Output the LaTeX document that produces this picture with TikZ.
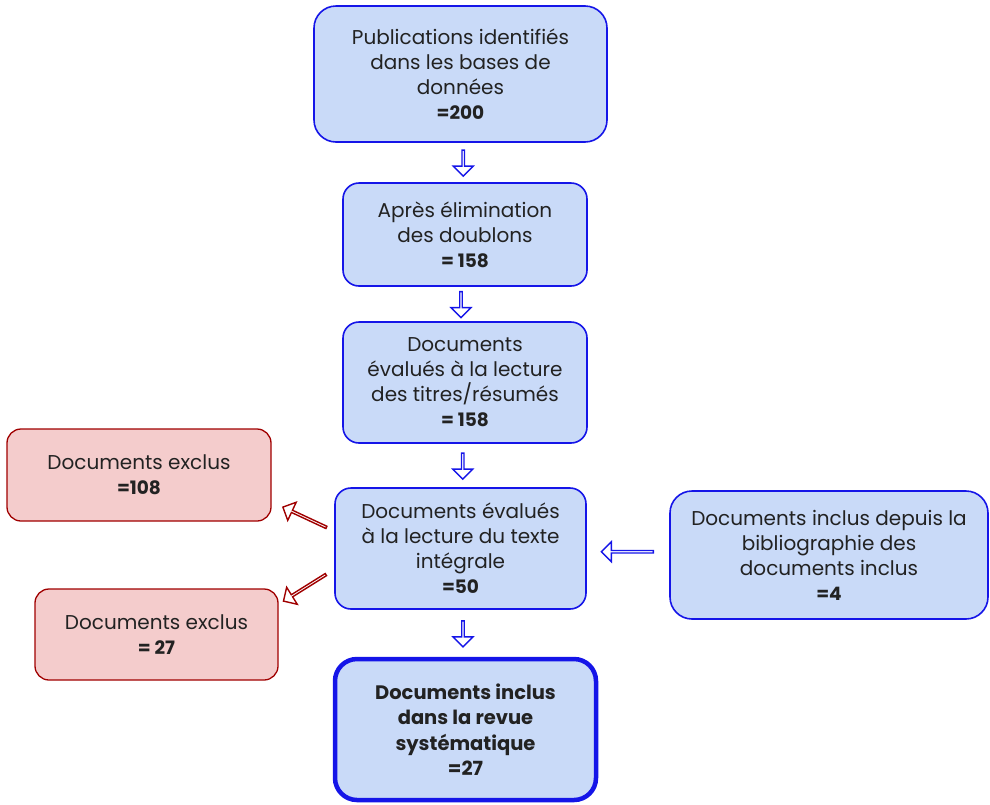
\documentclass[tikz,border=0pt]{standalone}
\usepackage{fontspec}
\setmainfont{Poppins}
\usetikzlibrary{shapes.arrows,calc}
\definecolor{bluefill}{HTML}{C9DAF8}
\definecolor{blueline}{HTML}{1515E8}
\definecolor{redfill}{HTML}{F4CCCC}
\definecolor{redline}{HTML}{A00000}
\definecolor{ink}{HTML}{222222}
\newcommand\num[1]{{\fontsize{18.5}{25}\selectfont\bfseries #1}}
\tikzset{
  box/.style={draw=blueline, fill=bluefill, line width=1.6pt, rounded corners=22pt,
    align=center, text=ink, inner sep=0pt,
    font=\fontsize{20}{25}\selectfont},
  exbox/.style={box, draw=redline, fill=redfill, rounded corners=14pt, line width=1.3pt},
  finalbox/.style={box, line width=4.5pt, font=\fontsize{19.5}{25.5}\selectfont\bfseries},
  blockarrow/.style={single arrow, draw=#1, fill=white, line width=1.4pt,
    minimum height=26pt, minimum width=20pt, single arrow head extend=5pt, inner sep=0pt},
}
\begin{document}
\begin{tikzpicture}[x=1pt,y=-1pt]
\useasboundingbox (0,0) rectangle (990,804);
% boxes of the main flow
\node[box, minimum width=293pt, minimum height=136pt] (ident) at (460.5,74)
  {Publications identifiés\\dans les bases de\\données\\\num{=200}};
\node[box, minimum width=244pt, minimum height=103pt, rounded corners=16pt] (dedup) at (465,234.5)
  {Après élimination\\des doublons\\\num{= 158}};
\node[box, minimum width=244pt, minimum height=121pt, rounded corners=16pt] (titres) at (465,382.5)
  {Documents\\évalués à la lecture\\des titres/résumés\\\num{= 158}};
\node[box, minimum width=251pt, minimum height=121pt, rounded corners=16pt] (texte) at (460.5,548.5)
  {Documents évalués\\à la lecture du texte\\intégrale\\\num{=50}};
\node[finalbox, minimum width=261pt, minimum height=141pt] (final) at (465.5,729.5)
  {Documents inclus\\dans la revue\\systématique\\=27};
% side boxes
\node[box, minimum width=318pt, minimum height=128pt, rounded corners=22pt] (biblio) at (829,555)
  {Documents inclus depuis la\\bibliographie des\\documents inclus\\\num{=4}};
\node[exbox, minimum width=264pt, minimum height=92pt] (excl1) at (139,475)
  {Documents exclus\\\num{=108}};
\node[exbox, minimum width=243pt, minimum height=91pt] (excl2) at (156.5,634.5)
  {Documents exclus\\\num{= 27}};
% block arrows between the boxes
\node[blockarrow=blueline, rotate=-90] (a1) at ($(ident.south)!0.5!(dedup.north)+(0.5,0)$) {};
\node[blockarrow=blueline, rotate=-90] (a2) at ($(dedup.south)!0.5!(titres.north)-(4,0)$) {};
\node[blockarrow=blueline, rotate=-90] (a3) at ($(titres.south)!0.5!(texte.north)$) {};
\node[blockarrow=blueline, rotate=-90] (a4) at ($(texte.south)!0.5!(final.north)$) {};
\node[blockarrow=blueline, rotate=180, minimum height=52pt] (a5) at ($(biblio.west)!0.5!(texte.east)$) {};
\node[blockarrow=redline, rotate=155, minimum height=48pt] (a6) at ($(texte.west)+(-29,-31)$) {};
\node[blockarrow=redline, rotate=212, minimum height=50pt] (a7) at ($(texte.west)+(-29,39)$) {};
\end{tikzpicture}
\end{document}
